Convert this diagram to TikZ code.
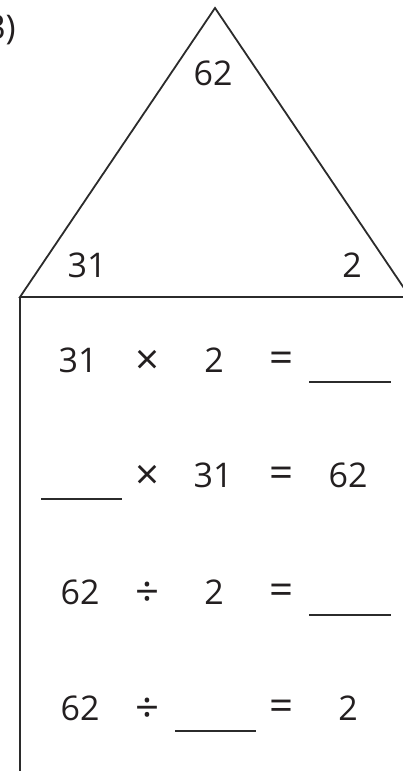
\documentclass[tikz,border=0pt]{standalone}
\usepackage{fontspec}
\setmainfont{Open Sans}
\definecolor{ink}{HTML}{231F20}
\definecolor{linec}{HTML}{2B2B2B}
\begin{document}
\begin{tikzpicture}[x=1pt,y=-1pt,
  num/.style={text=ink,font=\fontsize{34}{40}\selectfont,inner sep=0pt,anchor=center},
  op/.style={text=ink,font=\fontsize{42}{48}\selectfont,inner sep=0pt,anchor=center},
  edge/.style={draw=linec,line width=1.8pt,line join=miter},
  blank/.style={draw=linec,line width=2.6pt}]
\useasboundingbox (0,0) rectangle (402,771);
% label
\node[num,anchor=east] (lab) at (16,30) {3)};
% triangle and box
\coordinate (apex) at (215,8);
\coordinate (bl) at (20,297);
\coordinate (br) at (410,297);
\coordinate (bot) at (20,775);
\draw[edge] (br) -- (apex) -- (bl) -- (br);
\draw[edge] (bl) -- (bot);
% triangle numbers
\node[num] (t62) at (213,73) {62};
\node[num] (t31) at (87,265) {31};
\node[num] (t2) at (352,265) {2};
% row 1
\node[num] (a1) at (78,360) {31};
\node[op] (o1) at (148,362) {×};
\node[num] (b1) at (214,360) {2};
\node[op] (e1) at (282,362) {=};
\coordinate (r1a) at (309,382); \coordinate (r1b) at (391,382);
\draw[blank] (r1a) -- (r1b);
% row 2
\coordinate (r2a) at (41,499); \coordinate (r2b) at (122,499);
\draw[blank] (r2a) -- (r2b);
\node[op] (o2) at (148,477) {×};
\node[num] (b2) at (213,475) {31};
\node[op] (e2) at (282,477) {=};
\node[num] (c2) at (348,475) {62};
% row 3
\node[num] (a3) at (80,592) {62};
\node[op] (o3) at (148,594) {÷};
\node[num] (b3) at (214,592) {2};
\node[op] (e3) at (282,594) {=};
\coordinate (r3a) at (309,615); \coordinate (r3b) at (391,615);
\draw[blank] (r3a) -- (r3b);
% row 4
\node[num] (a4) at (80,708) {62};
\node[op] (o4) at (148,710) {÷};
\coordinate (r4a) at (175,731); \coordinate (r4b) at (256,731);
\draw[blank] (r4a) -- (r4b);
\node[op] (e4) at (282,710) {=};
\node[num] (c4) at (348,708) {2};
\end{tikzpicture}
\end{document}
